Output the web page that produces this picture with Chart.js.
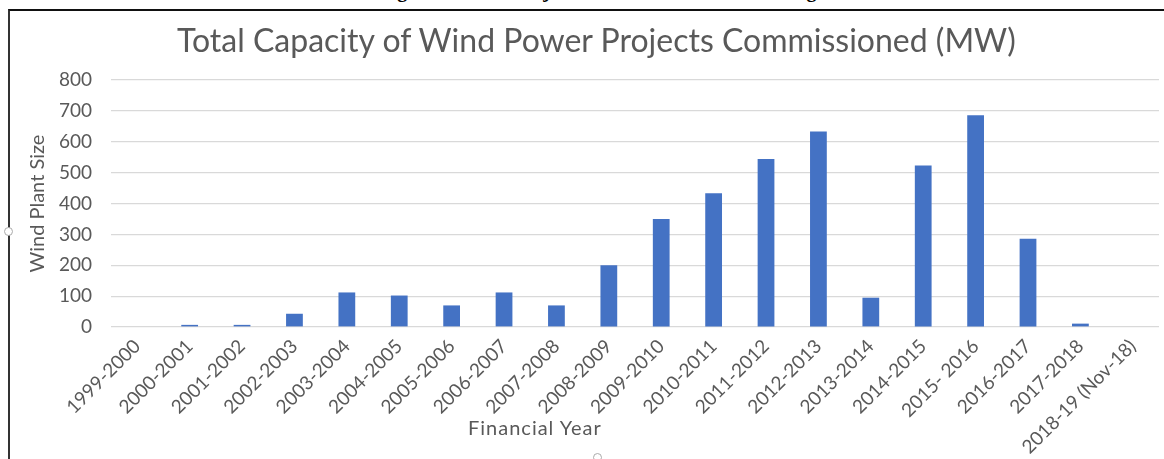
<!DOCTYPE html>
<html>
<head>
<meta charset="utf-8">
<script src="https://cdn.jsdelivr.net/npm/chart.js@4.4.1/dist/chart.umd.min.js"></script>
<style>
  html, body { margin:0; padding:0; background:#fff; width:1164px; height:459px; overflow:hidden; }
  #caption { position:absolute; left:0; width:1196px; top:-21px; text-align:center; font:bold 20px "Liberation Serif", serif; color:#000; white-space:nowrap; }
  #frame { position:absolute; left:8px; top:9px; width:1170px; height:470px; border-top:2px solid #111; border-left:2px solid #333; }
  #wrap { position:absolute; left:0; top:0; width:1164px; height:475px; }
  #title { position:absolute; left:177px; top:21px; font:32px Lato, sans-serif; line-height:38px; color:#595959; white-space:nowrap; }
  #xTitle { position:absolute; left:468px; top:415px; font:20px Lato, sans-serif; letter-spacing:1px; line-height:24px; color:#595959; }
  .handle { position:absolute; width:7px; height:7px; border:1.5px solid #aaa; border-radius:50%; background:#fff; }
</style>
</head>
<body>
<div id="caption">Figure 4: Solar Projects - Year wise Commissioning</div>
<div id="frame"></div>
<div id="wrap"><canvas id="chart" width="1164" height="475"></canvas></div>
<div id="title">Total Capacity of Wind Power Projects Commissioned (MW)</div>
<div id="xTitle">Financial Year</div>
<div class="handle" style="left:4px;top:227px;"></div>
<div class="handle" style="left:593px;top:453px;"></div>
<script>
const years = ['1999-2000','2000-2001','2001-2002','2002-2003','2003-2004','2004-2005','2005-2006',
  '2006-2007','2007-2008','2008-2009','2009-2010','2010-2011','2011-2012','2012-2013','2013-2014',
  '2014-2015','2015- 2016','2016-2017','2017-2018','2018-19 (Nov-18)'];
const capacity = [0, 7, 7, 43, 112, 102, 70, 112, 70, 200, 350, 433, 544, 633, 95, 523, 686, 286, 11, 0];
const yTicks = [0, 100, 200, 300, 400, 500, 600, 700, 800];

const grey = '#595959';
const ctx = document.getElementById('chart').getContext('2d');
const chart = new Chart(ctx, {
  type:'bar',
  data:{ labels:years, datasets:[{
    label:'Wind Plant Size', data:capacity,
    backgroundColor:'#4472C4', borderWidth:0,
    barPercentage:0.32, categoryPercentage:1
  }]},
  options:{
    responsive:false, animation:false,
    layout:{ padding:{ left:15, right:5, top:80, bottom:8.5 } },
    plugins:{ legend:{display:false}, tooltip:{enabled:false} },
    scales:{
      x:{
        grid:{display:false, drawTicks:false}, border:{display:false},
        ticks:{ color:grey, font:{family:'Lato', size:19}, minRotation:45, maxRotation:45, autoSkip:false, padding:8 }
      },
      y:{
        min:0, max:800,
        afterBuildTicks: s => { s.ticks = yTicks.map(v => ({value:v})); },
        grid:{ color:'#d9d9d9', lineWidth:1.3, drawTicks:false }, border:{display:false},
        ticks:{ color:grey, font:{family:'Lato', size:19}, padding:19 },
        title:{ display:true, text:'Wind Plant Size', color:grey, font:{family:'Lato', size:20}, padding:{top:11, bottom:-10} }
      }
    }
  }
});
</script>
</body>
</html>
